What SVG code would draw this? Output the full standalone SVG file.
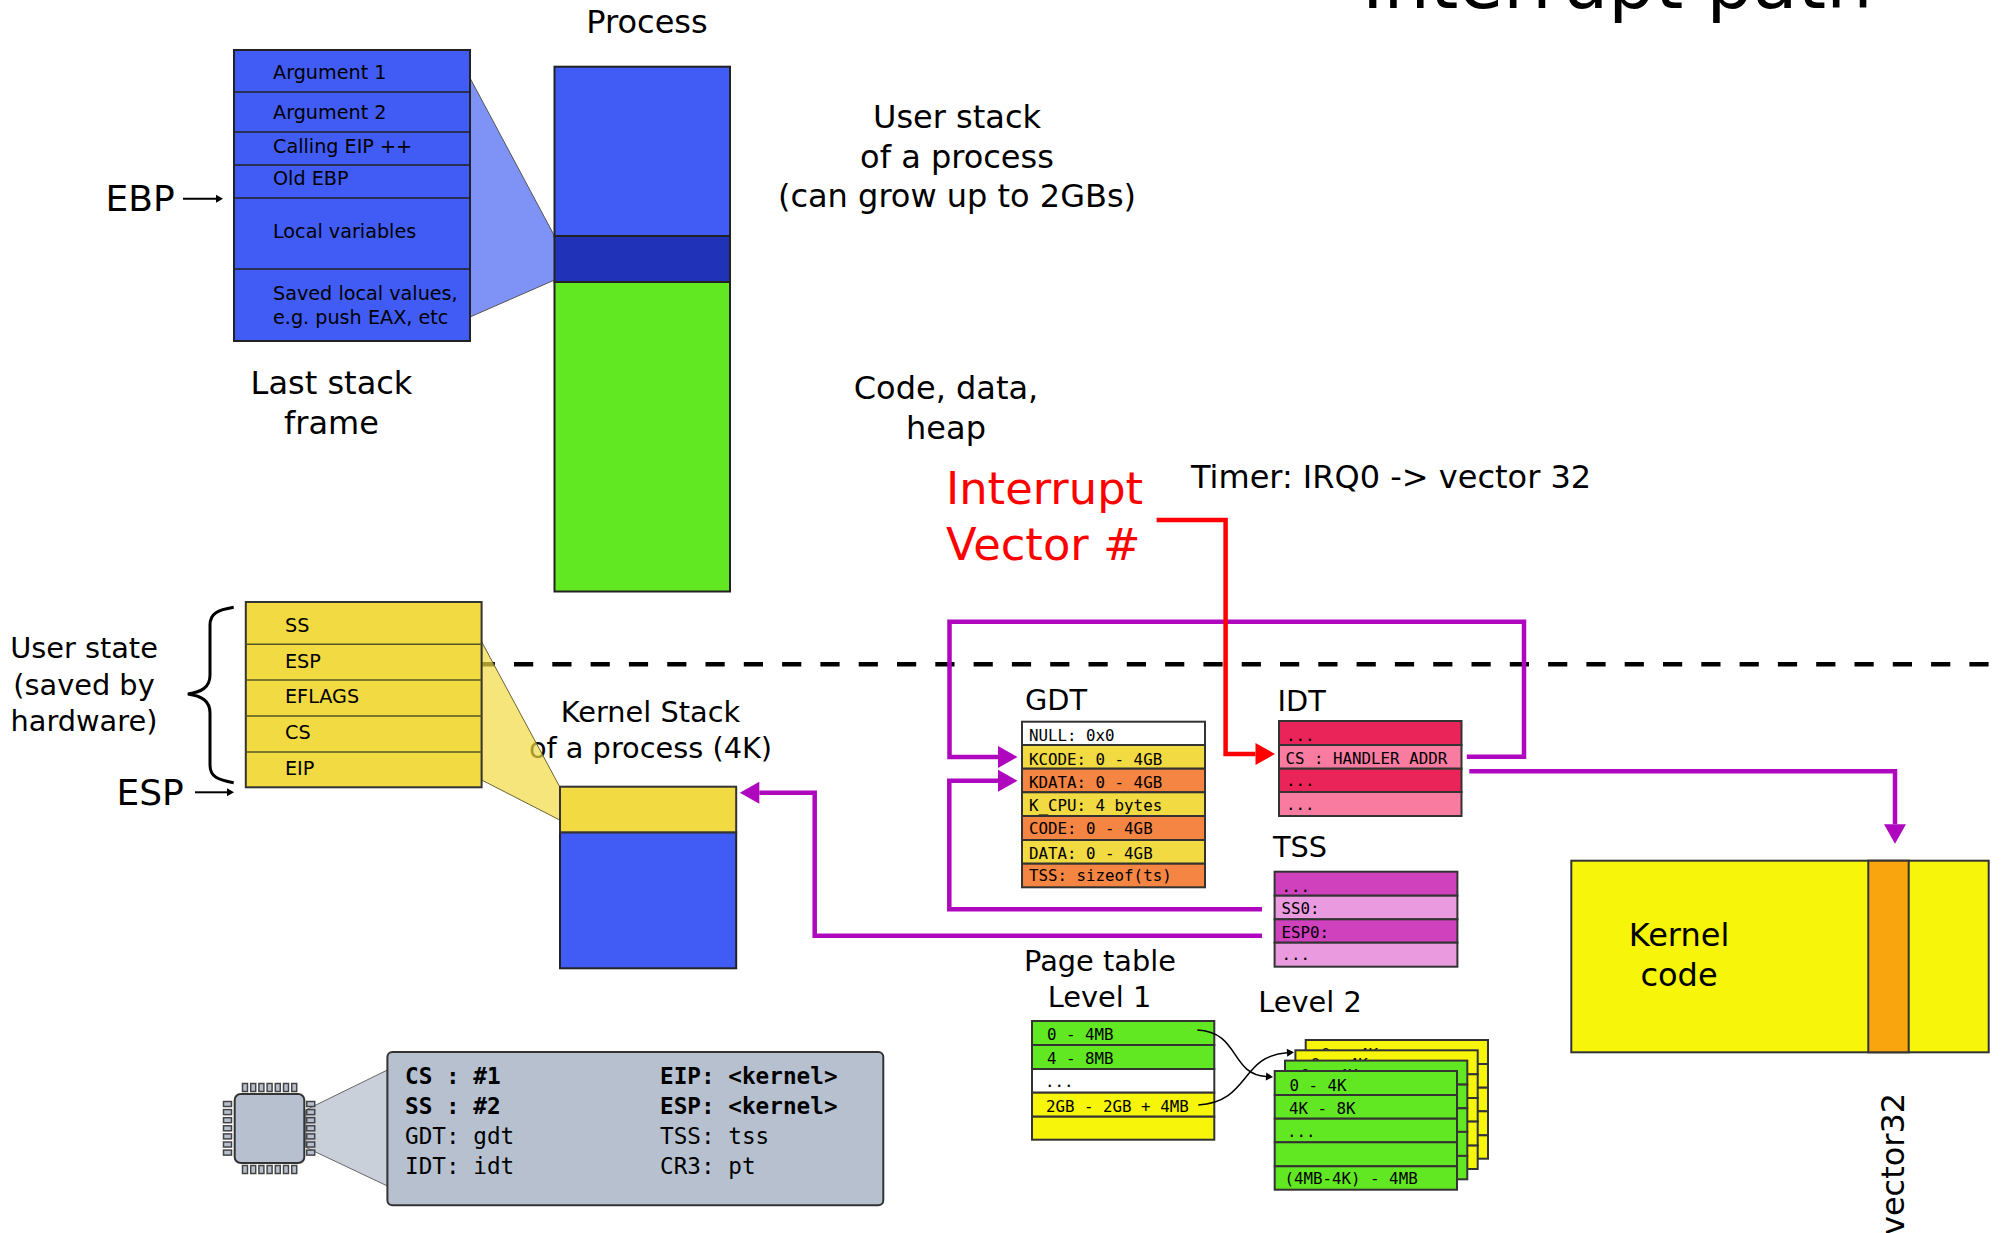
<svg xmlns="http://www.w3.org/2000/svg" width="2001" height="1233" viewBox="0 0 2001 1233">
<style>
text{font-family:"DejaVu Sans","Liberation Sans",sans-serif;fill:#000}
.t32{font-size:32px}.t29{font-size:28.8px}.t19{font-size:19.2px}.t36{font-size:36px}
.m{font-family:"DejaVu Sans Mono","Liberation Mono",monospace;font-size:15.8px}
.r{font-family:"DejaVu Sans Mono","Liberation Mono",monospace;font-size:22.7px}
.b{font-weight:bold}.c{text-anchor:middle}
.red{font-size:44.8px;fill:#ff0000}
.cell{stroke:#333;stroke-width:2}
.lg{fill:#415cf5}.blue{fill:#415cf5;stroke:#222;stroke-width:2}
.dblue{fill:#2033b8;stroke:#222;stroke-width:2}
.green{fill:#62e823}.yel{fill:#f2da42}.ora{fill:#f58542}.wht{fill:#fff}.kyel{fill:#f6f50a}
.pk1{fill:#ea2358}.pk2{fill:#f97ba0}.pu1{fill:#cf41bd}.pu2{fill:#ea9ade}
.p{fill:none;stroke:#ae07be;stroke-width:4.5}
.k{fill:none;stroke:#000;stroke-width:2}
.pad{fill:#b6c0cf;stroke:#444;stroke-width:1.5}
</style>
<defs>
<marker id="ap" markerUnits="userSpaceOnUse" markerWidth="20" markerHeight="24" refX="0" refY="11" orient="auto" overflow="visible"><path d="M0,0L19.5,11L0,22Z" fill="#ae07be"/></marker>
<marker id="ar" markerUnits="userSpaceOnUse" markerWidth="20" markerHeight="24" refX="0" refY="11" orient="auto" overflow="visible"><path d="M0,0L19.5,11L0,22Z" fill="#ff0000"/></marker>
<marker id="ak" markerUnits="userSpaceOnUse" markerWidth="8" markerHeight="10" refX="0" refY="4" orient="auto" overflow="visible"><path d="M0,0L7,4L0,8Z" fill="#000"/></marker>
</defs>

<line id="boundary" x1="475.7" y1="664.3" x2="1990" y2="664.3" stroke="#000" stroke-width="4.4" stroke-dasharray="19.2 19.1"/>

<g id="title"><text x="1362" y="8" font-size="73">Interrupt path</text></g>
<g id="process-label"><text class="t32" x="647" y="33" text-anchor="middle">Process</text></g>
<g id="user-stack-label"><text class="t32 c" x="957" y="127.7">User stack</text><text class="t32 c" x="957" y="167.7">of a process</text><text class="t32 c" x="957" y="207.4">(can grow up to 2GBs)</text></g>
<g id="code-label"><text class="t32 c" x="946" y="399.3">Code, data,</text><text class="t32 c" x="946" y="439.3">heap</text></g>
<g id="timer-label"><text class="t32" x="1191" y="487.7">Timer: IRQ0 -&gt; vector 32</text></g>
<g id="interrupt-label"><text class="red" x="946" y="503.7">Interrupt</text><text class="red" x="946" y="560">Vector #</text></g>
<g id="last-frame-label"><text class="t32 c" x="331.5" y="394.3">Last stack</text><text class="t32 c" x="331.5" y="433.7">frame</text></g>
<g id="user-state-label"><text class="t29 c" x="84" y="658.3">User state</text><text class="t29 c" x="84" y="695">(saved by</text><text class="t29 c" x="84" y="731">hardware)</text></g>
<g id="kernel-stack-label"><text class="t29 c" x="650.5" y="721.7">Kernel Stack</text><text class="t29 c" x="650.5" y="758.3">of a process (4K)</text></g>

<polygon id="frame-zoom" points="470,78 554.5,236 554.5,280 470,317" fill="#7f92f5" stroke="#555" stroke-width="1"/>
<polygon id="state-zoom" points="481.6,641.7 559.7,786.7 559.7,820 481.6,780" fill="#f2da42" fill-opacity="0.7" stroke="#6b6330" stroke-width="1"/>
<polygon id="cpu-zoom" points="305.7,1110 387.4,1070 387.4,1186 305.7,1147.3" fill="#cad0da" stroke="#666" stroke-width="1"/>

<g id="stack-frame">
<rect class="blue" x="234" y="50" width="236" height="291"/>
<path d="M234,92H470M234,132H470M234,165H470M234,198H470M234,269H470" stroke="#222" stroke-width="1.6" fill="none"/>
<g class="t19"><text x="273" y="79">Argument 1</text><text x="273" y="119.3">Argument 2</text><text x="273" y="152.7">Calling EIP ++</text><text x="273" y="185">Old EBP</text><text x="273" y="238">Local variables</text><text x="273" y="300">Saved local values,</text><text x="273" y="324">e.g. push EAX, etc</text></g>
</g>
<g id="ebp"><text class="t36" x="105.5" y="211">EBP</text><line class="k" x1="183" y1="198.7" x2="216" y2="198.7" marker-end="url(#ak)"/></g>

<g id="process">
<rect class="blue" x="554.5" y="66.7" width="175.5" height="169.3"/>
<rect class="green" x="554.5" y="282" width="175.5" height="309.5" stroke="#222" stroke-width="2"/>
<rect class="dblue" x="554.5" y="236" width="175.5" height="46"/>
</g>

<g id="user-state">
<rect class="yel" x="245.8" y="602" width="235.8" height="185.3" stroke="#333" stroke-width="2"/>
<path d="M245.8,644.3H481.6M245.8,680H481.6M245.8,716H481.6M245.8,752H481.6" stroke="#555520" stroke-width="1.6" fill="none"/>
<g class="t19"><text x="285" y="631.7">SS</text><text x="285" y="667.6">ESP</text><text x="285" y="703.3">EFLAGS</text><text x="285" y="739.3">CS</text><text x="285" y="775">EIP</text></g>
</g>
<path id="brace" d="M233.7,607.3C218,610 210,613 210,625V675C210,687 202,692 187.8,694C202,696 210,701 210,713V765C210,777 218,780 233.7,782.7" fill="none" stroke="#000" stroke-width="3"/>
<g id="esp"><text class="t36" x="116.5" y="805">ESP</text><line class="k" x1="195" y1="792.3" x2="227" y2="792.3" marker-end="url(#ak)"/></g>

<g id="kernel-stack">
<rect class="blue" x="560" y="832.3" width="176.2" height="136"/>
<rect class="yel" x="560" y="786.7" width="176.2" height="45.6" stroke="#333" stroke-width="2"/>
</g>

<g id="gdt">
<text class="t29" x="1025" y="709.5">GDT</text>
<rect class="wht cell" x="1022" y="721.7" width="183" height="23.3"/>
<rect class="yel cell" x="1022" y="745" width="183" height="23.7"/>
<rect class="ora cell" x="1022" y="768.7" width="183" height="23.6"/>
<rect class="yel cell" x="1022" y="792.3" width="183" height="23.7"/>
<rect class="ora cell" x="1022" y="816" width="183" height="24"/>
<rect class="yel cell" x="1022" y="840" width="183" height="23.7"/>
<rect class="ora cell" x="1022" y="863.7" width="183" height="23.6"/>
<text class="m" x="1029" y="741.2">NULL: 0x0</text>
<text class="m" x="1029" y="764.8">KCODE: 0 - 4GB</text>
<text class="m" x="1029" y="788">KDATA: 0 - 4GB</text>
<text class="m" x="1029" y="810.5">K_CPU: 4 bytes</text>
<text class="m" x="1029" y="834">CODE: 0 - 4GB</text>
<text class="m" x="1029" y="858.5">DATA: 0 - 4GB</text>
<text class="m" x="1029" y="881">TSS: sizeof(ts)</text>
</g>

<g id="idt">
<text class="t29" x="1277.5" y="711">IDT</text>
<rect class="pk1 cell" x="1279" y="721" width="182.5" height="24"/>
<rect class="pk2 cell" x="1279" y="745" width="182.5" height="23.7"/>
<rect class="pk1 cell" x="1279" y="768.7" width="182.5" height="23.3"/>
<rect class="pk2 cell" x="1279" y="792" width="182.5" height="24"/>
<text class="m" x="1286" y="741">...</text>
<text class="m" x="1285.5" y="763.8">CS : HANDLER ADDR</text>
<text class="m" x="1286" y="785.7">...</text>
<text class="m" x="1286" y="810">...</text>
</g>

<g id="tss">
<text class="t29" x="1273" y="856.5">TSS</text>
<rect class="pu1 cell" x="1274.6" y="871.7" width="182.8" height="24"/>
<rect class="pu2 cell" x="1274.6" y="895.7" width="182.8" height="23.6"/>
<rect class="pu1 cell" x="1274.6" y="919.3" width="182.8" height="23.4"/>
<rect class="pu2 cell" x="1274.6" y="942.7" width="182.8" height="24"/>
<text class="m" x="1281.5" y="891.7">...</text>
<text class="m" x="1281.5" y="914.3">SS0:</text>
<text class="m" x="1281.5" y="937.7">ESP0:</text>
<text class="m" x="1281.5" y="960">...</text>
</g>

<g id="page-table-level1">
<text class="t29 c" x="1100" y="970.7">Page table</text>
<text class="t29 c" x="1099.5" y="1006.7">Level 1</text>
<rect class="green cell" x="1032" y="1021" width="182.3" height="24"/>
<rect class="green cell" x="1032" y="1045" width="182.3" height="24"/>
<rect class="wht cell" x="1032" y="1069" width="182.3" height="23.7"/>
<rect class="kyel cell" x="1032" y="1092.7" width="182.3" height="24"/>
<rect class="kyel cell" x="1032" y="1116.7" width="182.3" height="23"/>
<text class="m" x="1047" y="1040.2">0 - 4MB</text>
<text class="m" x="1047" y="1064">4 - 8MB</text>
<text class="m" x="1045" y="1086.7">...</text>
<text class="m" x="1046" y="1112">2GB - 2GB + 4MB</text>
</g>

<g id="page-table-level2">
<text class="t29 c" x="1310" y="1011.7">Level 2</text>
<g id="l2-back1">
<rect class="kyel cell" x="1305.7" y="1040" width="182.3" height="24"/><rect class="kyel cell" x="1305.7" y="1064" width="182.3" height="23.7"/><rect class="kyel cell" x="1305.7" y="1087.7" width="182.3" height="23.6"/><rect class="kyel cell" x="1305.7" y="1111.3" width="182.3" height="24"/><rect class="kyel cell" x="1305.7" y="1135.3" width="182.3" height="23.4"/>
<text class="m" x="1321" y="1060">0 - 4K</text>
</g>
<g id="l2-back2">
<rect class="kyel cell" x="1295.4" y="1050.3" width="182.3" height="24"/><rect class="kyel cell" x="1295.4" y="1074.3" width="182.3" height="23.7"/><rect class="kyel cell" x="1295.4" y="1098" width="182.3" height="23.6"/><rect class="kyel cell" x="1295.4" y="1121.6" width="182.3" height="24"/><rect class="kyel cell" x="1295.4" y="1145.6" width="182.3" height="23.4"/>
<text class="m" x="1310.7" y="1070.3">0 - 4K</text>
</g>
<g id="l2-back3">
<rect class="green cell" x="1285" y="1060.6" width="182.3" height="24"/><rect class="green cell" x="1285" y="1084.6" width="182.3" height="23.7"/><rect class="green cell" x="1285" y="1108.3" width="182.3" height="23.6"/><rect class="green cell" x="1285" y="1131.9" width="182.3" height="24"/><rect class="green cell" x="1285" y="1155.9" width="182.3" height="23.4"/>
<text class="m" x="1300.4" y="1080.6">0 - 4K</text>
</g>
<g id="l2-front">
<rect class="green cell" x="1274.7" y="1071" width="182.3" height="24"/><rect class="green cell" x="1274.7" y="1095" width="182.3" height="23.7"/><rect class="green cell" x="1274.7" y="1118.7" width="182.3" height="23.6"/><rect class="green cell" x="1274.7" y="1142.3" width="182.3" height="24"/><rect class="green cell" x="1274.7" y="1166.3" width="182.3" height="23.4"/>
<text class="m" x="1289.5" y="1091">0 - 4K</text>
<text class="m" x="1289" y="1114.3">4K - 8K</text>
<text class="m" x="1287" y="1137.3">...</text>
<text class="m" x="1284.5" y="1184.3">(4MB-4K) - 4MB</text>
</g>
</g>

<g id="kernel-code">
<rect class="kyel" x="1571.3" y="860.7" width="417.4" height="191.6" stroke="#333" stroke-width="2"/>
<rect x="1868.3" y="860.7" width="40.4" height="191.6" fill="#f8a50e" stroke="#333" stroke-width="2"/>
<text class="t32 c" x="1679" y="945.5">Kernel</text>
<text class="t32 c" x="1679" y="985.5">code</text>
</g>
<g id="vector32"><text class="t32" transform="translate(1904.3,1235) rotate(-90)">vector32</text></g>

<g id="cpu">
<rect x="234.7" y="1094" width="69.6" height="69" rx="6" fill="#b6c0cf" stroke="#333" stroke-width="2"/>
<g class="pad">
<rect x="242.5" y="1083.5" width="5" height="8"/><rect x="250.7" y="1083.5" width="5" height="8"/><rect x="258.9" y="1083.5" width="5" height="8"/><rect x="267.1" y="1083.5" width="5" height="8"/><rect x="275.3" y="1083.5" width="5" height="8"/><rect x="283.5" y="1083.5" width="5" height="8"/><rect x="291.7" y="1083.5" width="5" height="8"/>
<rect x="242.5" y="1165.5" width="5" height="8"/><rect x="250.7" y="1165.5" width="5" height="8"/><rect x="258.9" y="1165.5" width="5" height="8"/><rect x="267.1" y="1165.5" width="5" height="8"/><rect x="275.3" y="1165.5" width="5" height="8"/><rect x="283.5" y="1165.5" width="5" height="8"/><rect x="291.7" y="1165.5" width="5" height="8"/>
<rect x="223.5" y="1101.5" width="8" height="5"/><rect x="223.5" y="1109.6" width="8" height="5"/><rect x="223.5" y="1117.7" width="8" height="5"/><rect x="223.5" y="1125.8" width="8" height="5"/><rect x="223.5" y="1133.9" width="8" height="5"/><rect x="223.5" y="1142" width="8" height="5"/><rect x="223.5" y="1150.1" width="8" height="5"/>
<rect x="306.7" y="1101.5" width="8" height="5"/><rect x="306.7" y="1109.6" width="8" height="5"/><rect x="306.7" y="1117.7" width="8" height="5"/><rect x="306.7" y="1125.8" width="8" height="5"/><rect x="306.7" y="1133.9" width="8" height="5"/><rect x="306.7" y="1142" width="8" height="5"/><rect x="306.7" y="1150.1" width="8" height="5"/>
</g>
</g>
<g id="registers">
<rect x="387.4" y="1052" width="495.9" height="153.3" rx="5" fill="#b6c0cf" stroke="#333" stroke-width="2"/>
<text class="r b" x="405" y="1084">CS : #1</text><text class="r b" x="405" y="1114">SS : #2</text><text class="r" x="405" y="1144">GDT: gdt</text><text class="r" x="405" y="1174">IDT: idt</text>
<text class="r b" x="660" y="1084">EIP: &lt;kernel&gt;</text><text class="r b" x="660" y="1114">ESP: &lt;kernel&gt;</text><text class="r" x="660" y="1144">TSS: tss</text><text class="r" x="660" y="1174">CR3: pt</text>
</g>

<g id="connectors">
<path class="p" d="M1466.8,756.7H1524V621.7H949.5V757H998" marker-end="url(#ap)"/>
<path class="p" d="M1262,909.3H949.3V780.7H998" marker-end="url(#ap)"/>
<path class="p" d="M1262,935.7H814.7V792.7H759.3" marker-end="url(#ap)"/>
<path class="p" d="M1469.3,771.3H1895V824.3" marker-end="url(#ap)"/>
<path d="M1156.6,520H1225.6V754H1255.5" fill="none" stroke="#ff0000" stroke-width="4.5" marker-end="url(#ar)"/>
<path d="M1197.3,1030C1240,1032 1230,1074 1266,1076.5" fill="none" stroke="#000" stroke-width="1.5" marker-end="url(#ak)"/>
<path d="M1198.3,1105C1250,1102 1240,1056 1287,1052.7" fill="none" stroke="#000" stroke-width="1.5" marker-end="url(#ak)"/>
</g>
</svg>
